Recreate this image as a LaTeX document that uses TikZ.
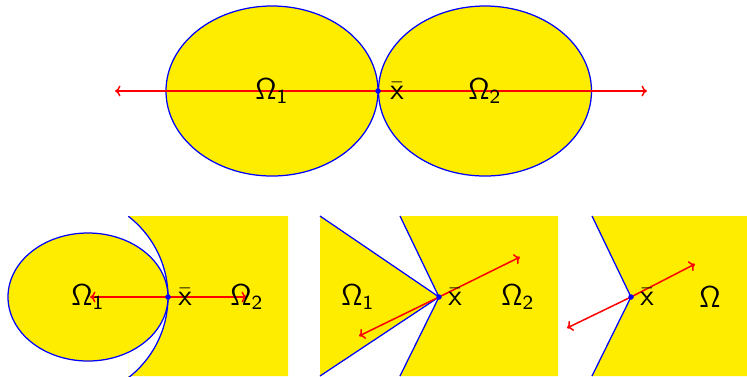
\documentclass[tikz,border=0pt]{standalone}
\usetikzlibrary{arrows.meta}
\definecolor{fillyel}{RGB}{255,237,0}
\definecolor{vecred}{RGB}{255,0,0}
\begin{document}
\begin{tikzpicture}[x=0.4pt,y=-0.4pt,
  region/.style={fill=fillyel},
  bnd/.style={draw=blue,line width=0.5pt},
  vec/.style={draw=vecred,line width=0.6pt,-{To[length=2.2pt,width=4.4pt]}},
  lbl/.style={inner sep=0pt,font=\large},
  dot/.style={circle,fill=blue,inner sep=0pt,minimum size=2.2pt}]
\useasboundingbox (0,0) rectangle (747,376);
% ---------- top ----------
\path[region,bnd] (272,91) ellipse [x radius=106, y radius=85];
\path[region,bnd] (485,91) ellipse [x radius=106.5, y radius=85];
\coordinate (xb) at (378,91);
\coordinate (tl) at (115,91);
\coordinate (tr) at (647,91);
\draw[vec] (xb) -- (tl);
\draw[vec] (xb) -- (tr);
\node[dot] (d0) at (xb) {};
\node[lbl] (o1) at (272,91) {$\mathsf{\Omega}_\mathsf{1}$};
\node[lbl] (x0) at (397,91) {$\bar{\mathsf{x}}$};
\node[lbl] (o2) at (485,91) {$\mathsf{\Omega}_\mathsf{2}$};
% ---------- panel 1 ----------
\begin{scope}
\clip (128,216) rectangle (288,376);
\fill[fillyel, even odd rule] (128,216) rectangle (288,376) (66,297) circle [radius=102];
\draw[bnd] (66,297) circle [radius=102];
\end{scope}
\path[region,bnd] (88,297) ellipse [x radius=80, y radius=64];
\coordinate (xa) at (168,297);
\coordinate (a1) at (90,297);
\coordinate (a2) at (247,297);
\draw[vec] (xa) -- (a1);
\draw[vec] (xa) -- (a2);
\node[dot] (da) at (xa) {};
\node[lbl] (pa1) at (88,297) {$\mathsf{\Omega}_\mathsf{1}$};
\node[lbl] (pax) at (185,297) {$\bar{\mathsf{x}}$};
\node[lbl] (pa2) at (247,297) {$\mathsf{\Omega}_\mathsf{2}$};
% ---------- panel 2 ----------
\fill[fillyel] (320,216) -- (439,297) -- (320,376) -- cycle;
\fill[fillyel] (400,216) -- (439,297) -- (400,376) -- (558,376) -- (558,216) -- cycle;
\coordinate (xc) at (439,297);
\draw[bnd] (320,216) -- (xc) -- (320,376);
\draw[bnd] (400,216) -- (xc) -- (400,376);
\coordinate (c1) at (520,257);
\coordinate (c2) at (359,336);
\draw[vec] (xc) -- (c1);
\draw[vec] (xc) -- (c2);
\node[dot] (dc) at (xc) {};
\node[lbl] (pc1) at (358,297) {$\mathsf{\Omega}_\mathsf{1}$};
\node[lbl] (pcx) at (455,297) {$\bar{\mathsf{x}}$};
\node[lbl] (pc2) at (518,297) {$\mathsf{\Omega}_\mathsf{2}$};
% ---------- panel 3 ----------
\fill[fillyel] (592,216) -- (631,297) -- (592,376) -- (747,376) -- (747,216) -- cycle;
\coordinate (xd) at (631,297);
\draw[bnd] (592,216) -- (xd) -- (592,376);
\coordinate (e1) at (695,264);
\coordinate (e2) at (567,328);
\draw[vec] (xd) -- (e1);
\draw[vec] (xd) -- (e2);
\node[dot] (dd) at (xd) {};
\node[lbl] (pdx) at (647,297) {$\bar{\mathsf{x}}$};
\node[lbl] (pdo) at (710,297) {$\mathsf{\Omega}$};
\end{tikzpicture}
\end{document}
